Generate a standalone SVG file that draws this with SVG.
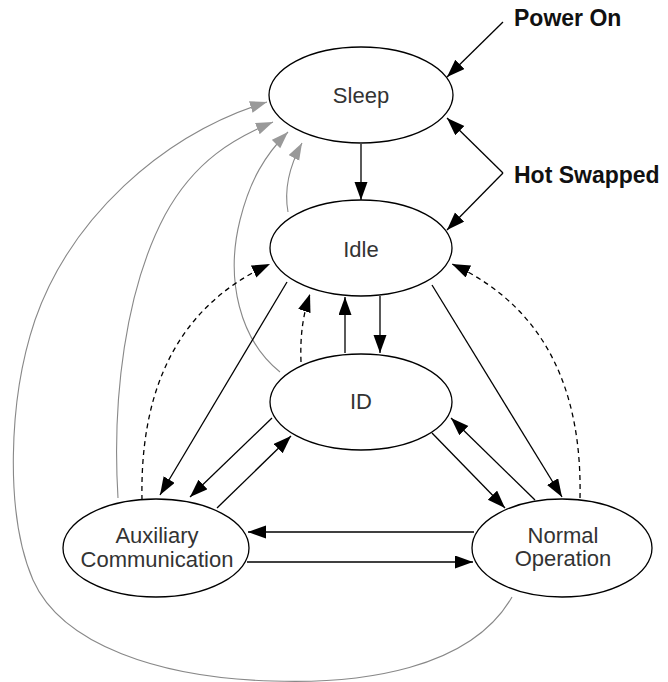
<svg xmlns="http://www.w3.org/2000/svg" width="668" height="682" viewBox="0 0 668 682">
<defs>
<marker id="ab" markerUnits="userSpaceOnUse" markerWidth="19" markerHeight="14" refX="18" refY="6.5" orient="auto" viewBox="0 0 19 14"><path d="M0,0 L18,6.5 L0,13 z" fill="#000"/></marker>
<marker id="ag" markerUnits="userSpaceOnUse" markerWidth="18" markerHeight="13" refX="17" refY="6" orient="auto" viewBox="0 0 18 13"><path d="M0,0 L17,6 L0,12 z" fill="#999"/></marker>
<style>
.node ellipse{fill:#fff;stroke:#000;stroke-width:1.3}
.node text{font-family:"Liberation Sans",Arial,sans-serif;font-size:22px;fill:#333;text-anchor:middle}
.lbl{font-family:"Liberation Sans",Arial,sans-serif;font-size:23px;font-weight:bold;fill:#111}
.b{fill:none;stroke:#000;stroke-width:1.3;marker-end:url(#ab)}
.d{fill:none;stroke:#000;stroke-width:1.3;stroke-dasharray:5,4;marker-end:url(#ab)}
.g{fill:none;stroke:#888;stroke-width:1.1;marker-end:url(#ag)}
</style>
</defs>
<g id="connectors">
<path class="g" d="M512,597 C470,670 360,684 273,681 C160,678 62,645 33,580 C5,515 8,400 35,320 C70,220 160,135 267,102"/>
<path class="g" d="M118,498 C112,400 125,290 165,215 C195,160 235,138 273,122"/>
<path class="g" d="M280,372 C240,340 225,280 240,220 C250,180 265,155 288,132"/>
<path class="g" d="M288,212 C284,190 290,165 302,143"/>
<path class="b" d="M503,22 L447,77"/>
<path class="b" d="M503,173 L447,118"/>
<path class="b" d="M503,173 L447,230"/>
<path class="b" d="M361,144 L361,200"/>
<path class="b" d="M345,353 L345,297"/>
<path class="b" d="M380,296 L380,353"/>
<path class="b" d="M287,282 L160,495"/>
<path class="b" d="M272,418 L190,497"/>
<path class="b" d="M217,508 L291,436"/>
<path class="b" d="M432,285 L562,497"/>
<path class="b" d="M432,433 L505,508"/>
<path class="b" d="M535,500 L451,418"/>
<path class="b" d="M474,532 L248,532"/>
<path class="b" d="M247,562 L473,562"/>
<path class="d" d="M142,500 C140,400 170,310 270,264"/>
<path class="d" d="M580,498 C582,400 552,310 452,264"/>
<path class="d" d="M301,362 C300,335 303,315 310,294"/>
</g>
<g id="sleep" class="node"><ellipse cx="361" cy="95" rx="92" ry="48"/><text x="361" y="103">Sleep</text></g>
<g id="idle" class="node"><ellipse cx="361" cy="248" rx="91" ry="48"/><text x="361" y="257">Idle</text></g>
<g id="id" class="node"><ellipse cx="361" cy="402" rx="91" ry="48"/><text x="361" y="409">ID</text></g>
<g id="aux" class="node"><ellipse cx="156" cy="548" rx="93" ry="49"/><text x="157" y="543">Auxiliary</text><text x="157" y="567">Communication</text></g>
<g id="normal" class="node"><ellipse cx="562" cy="548" rx="90" ry="49"/><text x="563" y="543">Normal</text><text x="563" y="566">Operation</text></g>
<g id="labels">
<text class="lbl" x="514" y="26">Power On</text>
<text class="lbl" x="514" y="183">Hot Swapped</text>
</g>
</svg>
